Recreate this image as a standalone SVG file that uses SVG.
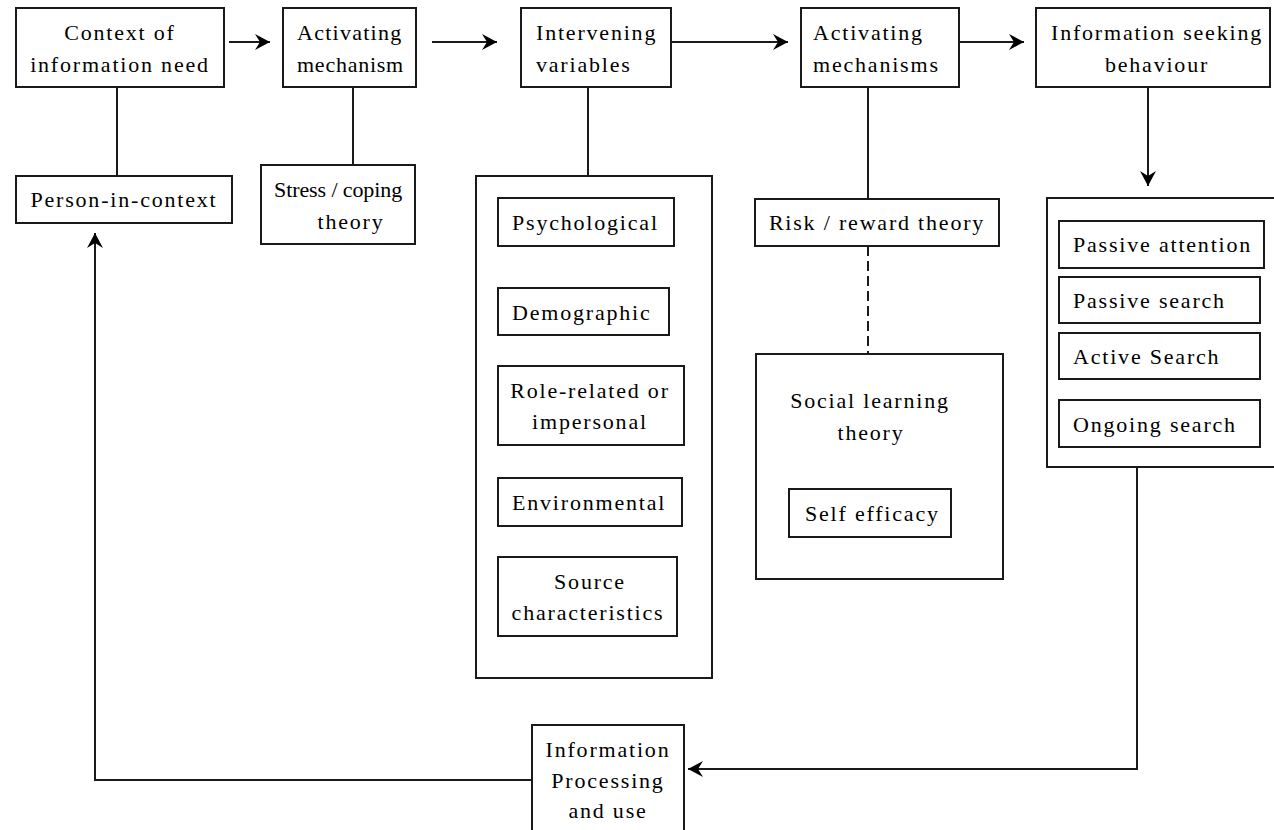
<svg xmlns="http://www.w3.org/2000/svg" width="1274" height="830" viewBox="0 0 1274 830">
<style>
.b{fill:#fff;stroke:#1a1a1a;stroke-width:2}
.c{fill:none;stroke:#1a1a1a;stroke-width:2}
.d{fill:none;stroke:#1a1a1a;stroke-width:2;stroke-dasharray:10 5}
text{font-family:"Liberation Serif","Times New Roman",serif;font-size:22px;fill:#000;letter-spacing:1.8px}
.m{text-anchor:middle}
</style>
<defs>
<marker id="ah" markerUnits="userSpaceOnUse" markerWidth="17" markerHeight="17" refX="15" refY="8" orient="auto">
<path d="M0,0 L15,8 L0,16 L5,8 z" fill="#000"/>
</marker>
</defs>
<rect width="1274" height="830" fill="#fff"/>
<g id="connectors">
<line class="c" x1="229" y1="42" x2="270" y2="42" marker-end="url(#ah)"/>
<line class="c" x1="432" y1="42" x2="497" y2="42" marker-end="url(#ah)"/>
<line class="c" x1="667" y1="42" x2="788" y2="42" marker-end="url(#ah)"/>
<line class="c" x1="959" y1="42" x2="1024" y2="42" marker-end="url(#ah)"/>
<line class="c" x1="1148" y1="87" x2="1148" y2="186" marker-end="url(#ah)"/>
<line class="c" x1="117" y1="87" x2="117" y2="176"/>
<line class="c" x1="353" y1="87" x2="353" y2="165"/>
<line class="c" x1="588" y1="87" x2="588" y2="176"/>
<line class="c" x1="868" y1="87" x2="868" y2="199"/>
<line class="d" x1="868" y1="246" x2="868" y2="354"/>
<polyline class="c" points="1137,467 1137,769 688,769" marker-end="url(#ah)"/>
<polyline class="c" points="532,780 95,780 95,233" marker-end="url(#ah)"/>
</g>
<g id="context">
<rect class="b" x="16" y="8" width="208" height="79"/>
<text class="m" x="120" y="40">Context of</text>
<text class="m" x="120" y="72">information need</text>
</g>
<g id="activating1">
<rect class="b" x="283" y="8" width="133" height="79"/>
<text x="297" y="40" textLength="106" lengthAdjust="spacing">Activating</text>
<text x="297" y="72" textLength="108" lengthAdjust="spacing">mechanism</text>
</g>
<g id="intervening">
<rect class="b" x="521" y="8" width="150" height="79"/>
<text x="536" y="40">Intervening</text>
<text x="536" y="72">variables</text>
</g>
<g id="activating2">
<rect class="b" x="801" y="8" width="158" height="79"/>
<text x="813" y="40">Activating</text>
<text x="813" y="72">mechanisms</text>
</g>
<g id="seeking">
<rect class="b" x="1036" y="8" width="234" height="79"/>
<text class="m" x="1157" y="40">Information seeking</text>
<text class="m" x="1157" y="72">behaviour</text>
</g>
<g id="person">
<rect class="b" x="16" y="176" width="216" height="47"/>
<text class="m" x="124" y="207">Person-in-context</text>
</g>
<g id="stress">
<rect class="b" x="261" y="165" width="154" height="79"/>
<text x="274" y="197" textLength="130" lengthAdjust="spacing">Stress / coping</text>
<text class="m" x="351" y="229">theory</text>
</g>
<g id="variables">
<rect class="b" x="476" y="176" width="236" height="502"/>
<g id="psychological">
<rect class="b" x="498" y="198" width="176" height="48"/>
<text x="512" y="230">Psychological</text>
</g>
<g id="demographic">
<rect class="b" x="498" y="288" width="171" height="47"/>
<text x="512" y="320">Demographic</text>
</g>
<g id="role">
<rect class="b" x="498" y="366" width="186" height="79"/>
<text class="m" x="590" y="398">Role-related or</text>
<text class="m" x="590" y="429">impersonal</text>
</g>
<g id="environmental">
<rect class="b" x="498" y="478" width="184" height="48"/>
<text x="512" y="510">Environmental</text>
</g>
<g id="source">
<rect class="b" x="498" y="557" width="179" height="79"/>
<text class="m" x="590" y="589">Source</text>
<text class="m" x="588" y="620">characteristics</text>
</g>
</g>
<g id="risk">
<rect class="b" x="755" y="199" width="244" height="47"/>
<text class="m" x="877" y="230">Risk / reward theory</text>
</g>
<g id="social">
<rect class="b" x="756" y="354" width="247" height="225"/>
<text class="m" x="870" y="408">Social learning</text>
<text class="m" x="871" y="440">theory</text>
<g id="selfefficacy">
<rect class="b" x="789" y="489" width="162" height="48"/>
<text x="805" y="521">Self efficacy</text>
</g>
</g>
<g id="behaviours">
<rect class="b" x="1047" y="198" width="232" height="269"/>
<g id="passiveattention">
<rect class="b" x="1059" y="221" width="205" height="47"/>
<text x="1073" y="252">Passive attention</text>
</g>
<g id="passivesearch">
<rect class="b" x="1059" y="277" width="201" height="46"/>
<text x="1073" y="308">Passive search</text>
</g>
<g id="activesearch">
<rect class="b" x="1059" y="333" width="201" height="46"/>
<text x="1073" y="364">Active Search</text>
</g>
<g id="ongoingsearch">
<rect class="b" x="1059" y="400" width="201" height="47"/>
<text x="1073" y="432">Ongoing search</text>
</g>
</g>
<g id="processing">
<rect class="b" x="532" y="725" width="152" height="115"/>
<text class="m" x="608" y="757">Information</text>
<text class="m" x="608" y="788">Processing</text>
<text class="m" x="608" y="818">and use</text>
</g>
</svg>
